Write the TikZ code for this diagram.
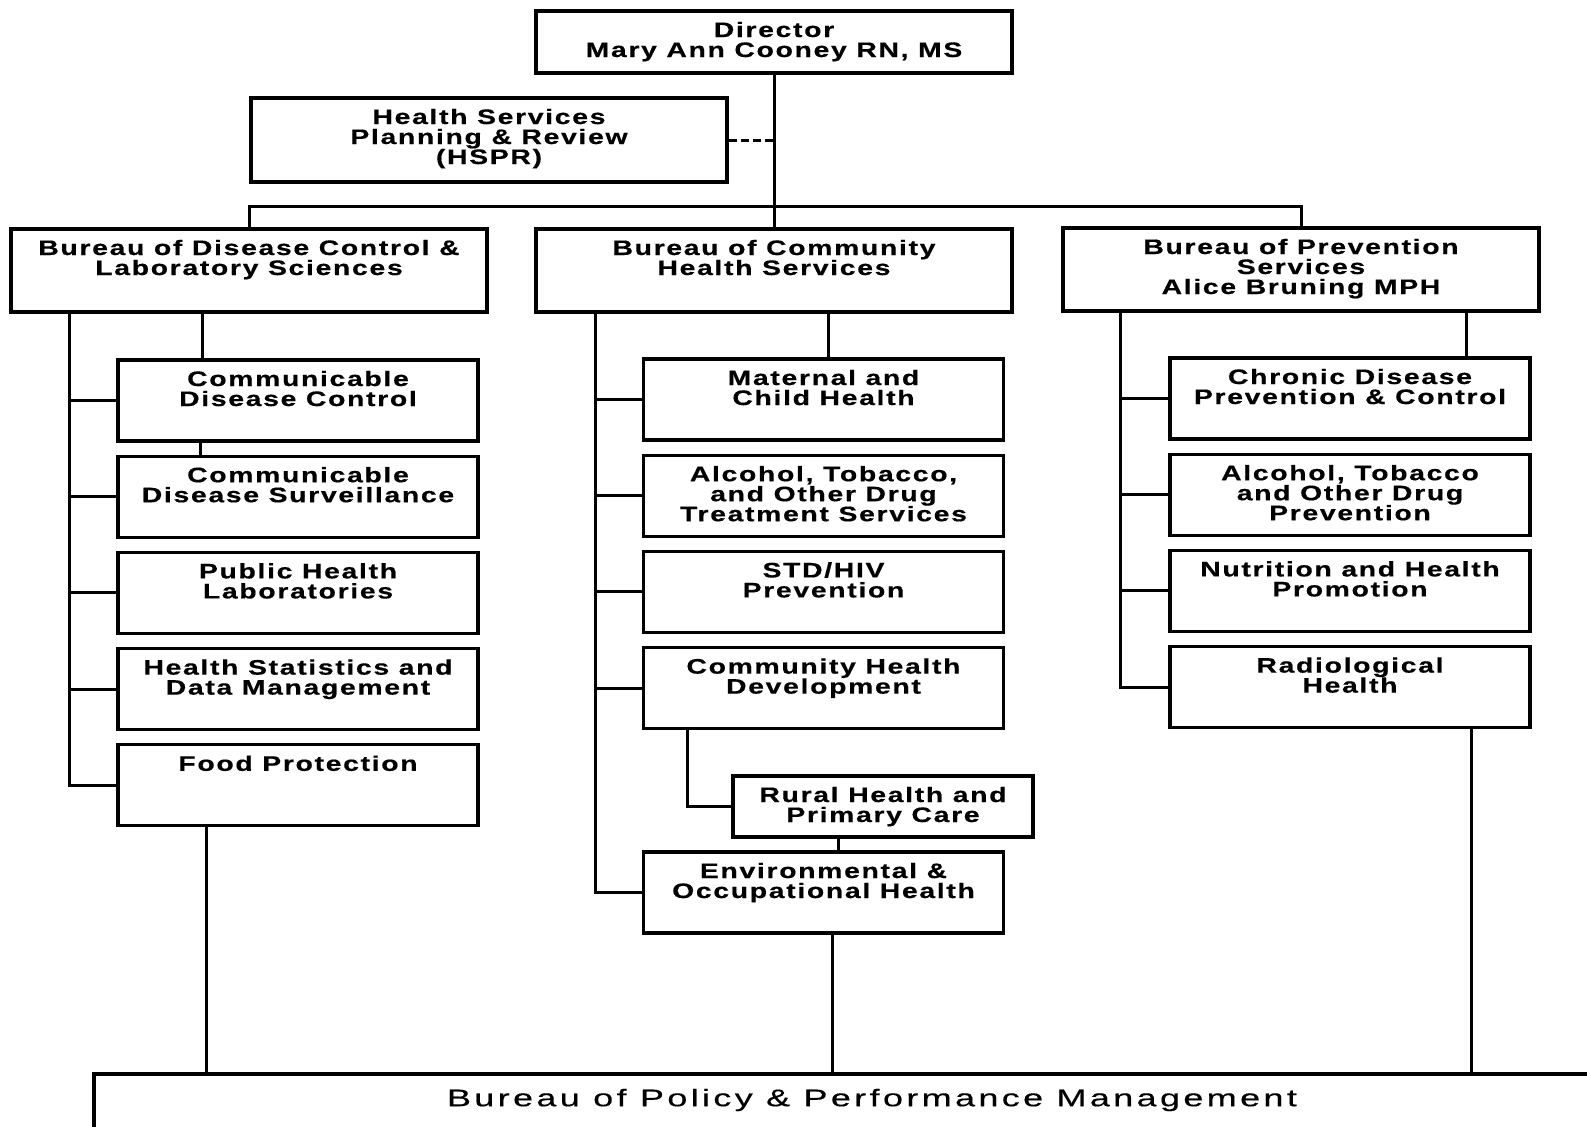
\documentclass[tikz,border=0pt]{standalone}
\usepackage{fontspec}
\usetikzlibrary{positioning}
\newfontfamily\unitfont{Liberation Sans Bold}[FakeStretch=1.35,LetterSpace=8,FakeBold=0.5]
\newfontfamily\basefont{Liberation Sans}[FakeStretch=1.5,LetterSpace=14,FakeBold=0.4]
\tikzset{
  unit box/.style={
    draw,
    line width=1.6pt,
    inner sep=0pt,
    minimum width={#1},
    minimum height={40.5pt},
  },
  unit box/.default=180pt,
  unit text/.style={
    anchor=north,
    align=center,
    inner sep=0pt,
    yshift=-6pt,
    font={\unitfont\fontsize{10.5}{10}\selectfont},
  },
  link/.style={
    line width=1.5pt,
  }
}

\begin{document}
\begin{tikzpicture}[x=0.5pt, y=-0.5pt, node distance=6pt]
        \useasboundingbox (0,0) rectangle (1587,1126);

        % top of the chart
        \node [unit box=238pt, minimum height=31pt] (dir) at (774,42) {};
        \node [unit box=238pt, minimum height=42pt] (hspr) at (489,140) {};
        \node [unit box=238pt, minimum height=41.5pt] (bdc) at (249,270.5) {};
        \node [unit box=238pt, minimum height=41.5pt] (bcs) at (774,270.5) {};
        \node [unit box=238pt, minimum height=41.5pt] (bps) at (1301,269.5) {};
        \coordinate (bar) at (774,206.5);

        \node [unit text] (dir t) at (dir.north) {Director\\Mary Ann Cooney RN, MS};
        \node [unit text] (hspr t) at (hspr.north) {Health Services\\Planning \& Review\\(HSPR)};
        \node [unit text] (bdc t) at (bdc.north) {Bureau of Disease Control \&\\Laboratory Sciences};
        \node [unit text] (bcs t) at (bcs.north) {Bureau of Community\\Health Services};
        \node [unit text] (bps t) at (bps.north) {Bureau of Prevention\\Services\\Alice Bruning MPH};

        % disease control and laboratory sciences
        \node [unit box] (cdc) at (298,400.5) {};
        \node [unit box, below=of cdc] (cds) {};
        \node [unit box, below=of cds] (phl) {};
        \node [unit box, below=of phl] (hsdm) {};
        \node [unit box, below=of hsdm] (food) {};

        \node [unit text] (cdc t) at (cdc.north) {Communicable\\Disease Control};
        \node [unit text] (cds t) at (cds.north) {Communicable\\Disease Surveillance};
        \node [unit text] (phl t) at (phl.north) {Public Health\\Laboratories};
        \node [unit text] (hsdm t) at (hsdm.north) {Health Statistics and\\Data Management};
        \node [unit text] (food t) at (food.north) {Food Protection};

        % community health services
        \node [unit box] (mch) at (823.5,399.5) {};
        \node [unit box, below=of mch] (atod) {};
        \node [unit box, below=of atod] (std) {};
        \node [unit box, below=of std] (chd) {};
        \node [unit box=150pt, minimum height=30.5pt] (rural) at (883,806.5) {};
        \node [unit box] (env) at (823.5,892.5) {};

        \node [unit text] (mch t) at (mch.north) {Maternal and\\Child Health};
        \node [unit text] (atod t) at (atod.north) {Alcohol, Tobacco,\\and Other Drug\\Treatment Services};
        \node [unit text] (std t) at (std.north) {STD/HIV\\Prevention};
        \node [unit text] (chd t) at (chd.north) {Community Health\\Development};
        \node [unit text] (rural t) at (rural.north) {Rural Health and\\Primary Care};
        \node [unit text] (env t) at (env.north) {Environmental \&\\Occupational Health};

        % prevention services
        \node [unit box] (cdpc) at (1350,398.5) {};
        \node [unit box, below=of cdpc] (atodp) {};
        \node [unit box, below=of atodp] (nhp) {};
        \node [unit box, below=of nhp] (rad) {};

        \node [unit text] (cdpc t) at (cdpc.north) {Chronic Disease\\Prevention \& Control};
        \node [unit text] (atodp t) at (atodp.north) {Alcohol, Tobacco\\and Other Drug\\Prevention};
        \node [unit text] (nhp t) at (nhp.north) {Nutrition and Health\\Promotion};
        \node [unit text] (rad t) at (rad.north) {Radiological\\Health};

        % policy bureau runs off the page
        \node [unit box=760pt, minimum height=40pt] (bppm) at (854,1114) {};
        \node [font={\basefont\fontsize{12}{14}\selectfont}, inner sep=0pt] (bppm t) at (872,1100) {Bureau of Policy \& Performance Management};

        % lines
        \draw [link] (dir.south) -- (bcs.north);
        \draw [link, dash pattern=on 4pt off 2pt] (hspr.east) -- (hspr.east -| dir.south);
        \draw [link] (bdc.north) |- (bar) -| (bps.north);

        \coordinate (lspine) at ([xshift=-90pt]bdc.south);
        \draw [link] (lspine) |- (food.west);
        \foreach \n in {cdc,cds,phl,hsdm}
          \draw [link] (\n.west) -- (lspine |- \n.west);
        \draw [link] ([xshift=-48pt]cdc.north) -- ([xshift=-48pt]cdc.north |- bdc.south);
        \draw [link] ([xshift=-49pt]cdc.south) -- ([xshift=-49pt]cds.north);

        \coordinate (mspine) at ([xshift=-89.5pt]bcs.south);
        \draw [link] (mspine) |- (env.west);
        \foreach \n in {mch,atod,std,chd}
          \draw [link] (\n.west) -- (mspine |- \n.west);
        \draw [link] ([xshift=2.25pt]mch.north) -- ([xshift=2.25pt]mch.north |- bcs.south);
        \draw [link] ([xshift=-68pt]chd.south) |- (rural.west);
        \draw [link] ([xshift=-22.5pt]rural.south) -- ([xshift=-22.5pt]rural.south |- env.north);

        \coordinate (rspine) at ([xshift=-90.5pt]bps.south);
        \draw [link] (rspine) |- (rad.west);
        \foreach \n in {cdpc,atodp,nhp}
          \draw [link] (\n.west) -- (rspine |- \n.west);
        \draw [link] ([xshift=58pt]cdpc.north) -- ([xshift=58pt]cdpc.north |- bps.south);

        \draw [link] ([xshift=-46pt]food.south) -- ([xshift=-46pt]food.south |- bppm.north);
        \draw [link] ([xshift=4.25pt]env.south) -- ([xshift=4.25pt]env.south |- bppm.north);
        \draw [link] ([xshift=60.5pt]rad.south) -- ([xshift=60.5pt]rad.south |- bppm.north);
      \end{tikzpicture}
\end{document}
